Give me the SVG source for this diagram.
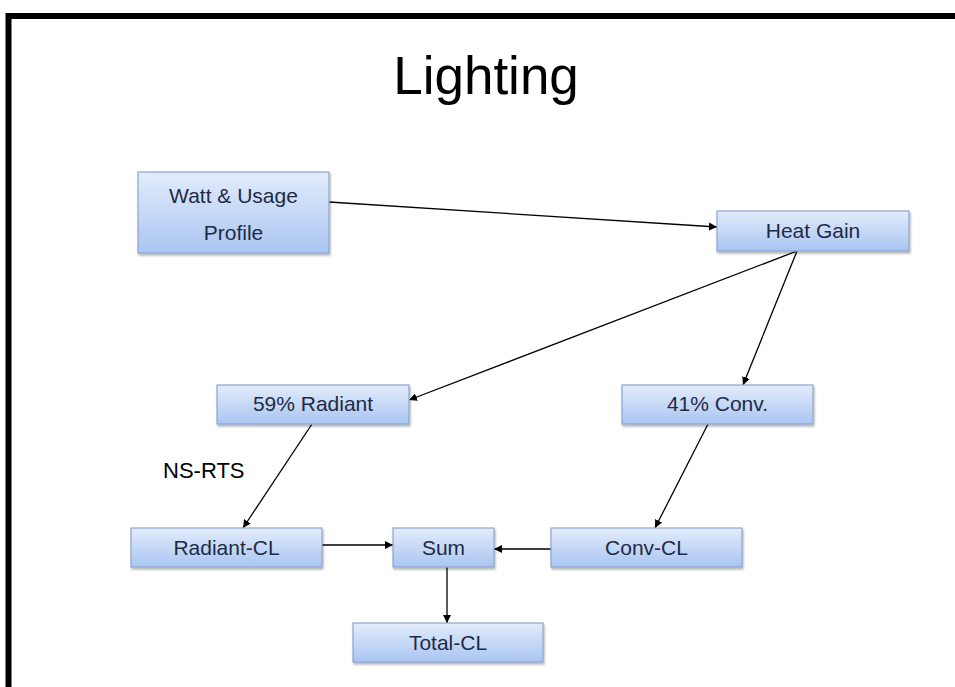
<svg xmlns="http://www.w3.org/2000/svg" width="955" height="687" viewBox="0 0 955 687">
<defs>
<linearGradient id="g" x1="0" y1="0" x2="0" y2="1">
<stop offset="0" stop-color="#E3ECFB"/>
<stop offset="1" stop-color="#A9C5F2"/>
</linearGradient>
<filter id="sh" x="-10%" y="-10%" width="120%" height="130%">
<feDropShadow dx="1" dy="2" stdDeviation="1.2" flood-color="#000" flood-opacity="0.3"/>
</filter>
<marker id="ah" viewBox="0 0 10 10" refX="10" refY="5" markerWidth="8" markerHeight="8" markerUnits="userSpaceOnUse" orient="auto">
<path d="M0,0 L10,5 L0,10 z" fill="#000"/>
</marker>
<style>
.box{fill:url(#g);stroke:#8DA6CF;stroke-width:1.2;filter:url(#sh)}
.t{font-family:"Liberation Sans",Arial,sans-serif;font-size:21px;fill:#1E2B45;text-anchor:middle}
.c{stroke:#000;stroke-width:1.3;fill:none;marker-end:url(#ah)}
</style>
</defs>
<rect x="0" y="0" width="955" height="687" fill="#fff"/>
<path d="M8.5,687 V16 H955" fill="none" stroke="#000" stroke-width="6"/>
<text x="486" y="94" font-family="Liberation Sans,Arial,sans-serif" font-size="53" text-anchor="middle" fill="#000">Lighting</text>
<text x="163" y="478" font-family="Liberation Sans,Arial,sans-serif" font-size="22" fill="#000">NS-RTS</text>
<g id="connectors">
<line class="c" x1="329" y1="202" x2="717" y2="227"/>
<line class="c" x1="797" y1="251" x2="409" y2="400"/>
<line class="c" x1="797" y1="251" x2="743" y2="385"/>
<line class="c" x1="312" y1="424" x2="243" y2="528"/>
<line class="c" x1="708" y1="424" x2="655" y2="528"/>
<line class="c" x1="322" y1="545" x2="393" y2="545"/>
<line class="c" x1="551" y1="549" x2="494" y2="549"/>
<line class="c" x1="447" y1="567" x2="447" y2="623"/>
</g>
<g id="watt"><rect class="box" x="138" y="172" width="191" height="81"/><text class="t" x="233.5" y="203">Watt &amp; Usage</text><text class="t" x="233.5" y="240">Profile</text></g>
<g id="heatgain"><rect class="box" x="717" y="211" width="192" height="40"/><text class="t" x="813" y="238">Heat Gain</text></g>
<g id="radiant"><rect class="box" x="217" y="385" width="192" height="39"/><text class="t" x="313" y="411">59% Radiant</text></g>
<g id="conv"><rect class="box" x="622" y="385" width="191" height="39"/><text class="t" x="717.5" y="411">41% Conv.</text></g>
<g id="radiantcl"><rect class="box" x="131" y="528" width="191" height="39"/><text class="t" x="226.5" y="555">Radiant-CL</text></g>
<g id="sum"><rect class="box" x="393" y="528" width="101" height="39"/><text class="t" x="443.5" y="555">Sum</text></g>
<g id="convcl"><rect class="box" x="551" y="528" width="191" height="39"/><text class="t" x="646.5" y="555">Conv-CL</text></g>
<g id="totalcl"><rect class="box" x="353" y="623" width="190" height="39"/><text class="t" x="448" y="650">Total-CL</text></g>
</svg>
